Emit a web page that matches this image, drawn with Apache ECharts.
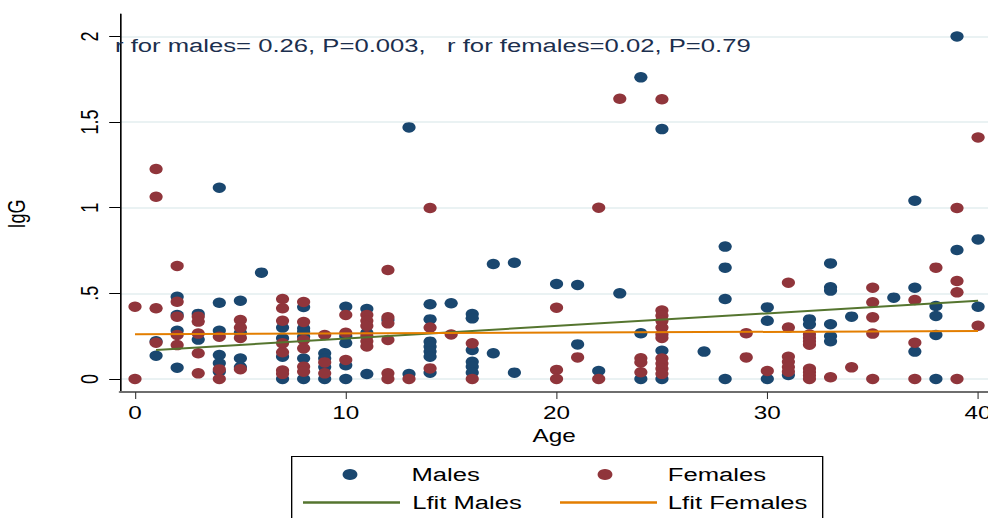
<!doctype html>
<html><head><meta charset="utf-8"></head>
<body style="margin:0;background:#fff;overflow:hidden">
<div id="chart" style="height:518px;transform-origin:0 0"></div>
<script src="https://cdn.jsdelivr.net/npm/echarts@6/dist/echarts.min.js"></script>
<script>
// IgG by age: [age, IgG]
var males = [
  [1,0.22],[1,0.136],
  [2,0.48],[2,0.374],[2,0.282],[2,0.066],
  [3,0.38],[3,0.23],
  [4,1.117],[4,0.445],[4,0.282],[4,0.14],[4,0.092],[4,0.043],
  [5,0.457],[5,0.27],[5,0.12],[5,0.07],
  [6,0.621],
  [7,0.30],[7,0.238],[7,0.13],[7,0],
  [8,0.42],[8,0.296],[8,0.276],[8,0.247],[8,0.12],[8,0],
  [9,0.15],[9,0.12],[9,0.07],[9,0],
  [10,0.422],[10,0.25],[10,0.21],[10,0.08],[10,0],
  [11,0.409],[11,0.27],[11,0.029],
  [12,0.345],
  [13,1.469],[13,0.029],
  [14,0.436],[14,0.348],[14,0.218],[14,0.189],[14,0.16],[14,0.13],[14,0.037],
  [15,0.442],
  [16,0.379],[16,0.354],[16,0.169],[16,0.10],[16,0.072],[16,0.037],
  [17,0.671],[17,0.15],
  [18,0.679],[18,0.037],
  [20,0.555],
  [21,0.549],[21,0.202],
  [22,0.047],
  [23,0.50],
  [24,1.761],[24,0.267],[24,0],
  [25,1.459],[25,0.165],[25,0],
  [27,0.16],
  [28,0.773],[28,0.65],[28,0.467],[28,0],
  [30,0.418],[30,0.34],[30,0],
  [31,0.023],
  [32,0.348],[32,0.319],
  [33,0.675],[33,0.535],[33,0.516],[33,0.32],[33,0.25],[33,0.22],
  [34,0.364],
  [36,0.475],
  [37,1.041],[37,0.533],[37,0.16],
  [38,0.426],[38,0.368],[38,0.257],[38,0],
  [39,2.0],[39,0.753],
  [40,0.815],[40,0.422]
];
var females = [
  [0,0.422],[0,0],
  [1,1.226],[1,1.064],[1,0.413],[1,0.212],
  [2,0.66],[2,0.451],[2,0.364],[2,0.257],[2,0.198],
  [3,0.364],[3,0.335],[3,0.265],[3,0.15],[3,0.033],
  [4,0.247],[4,0.056],[4,0],
  [5,0.344],[5,0.30],[5,0.24],[5,0.057],
  [7,0.467],[7,0.413],[7,0.34],[7,0.208],[7,0.156],[7,0.05],[7,0.03],
  [8,0.45],[8,0.333],[8,0.228],[8,0.179],[8,0.072],[8,0.043],
  [9,0.257],[9,0.097],[9,0.033],
  [10,0.374],[10,0.27],[10,0.111],
  [11,0.374],[11,0.34],[11,0.31],[11,0.25],[11,0.22],[11,0.19],
  [12,0.636],[12,0.36],[12,0.325],[12,0.228],[12,0.033],[12,0],
  [13,0],
  [14,0.998],[14,0.30],[14,0.062],
  [15,0.26],
  [16,0.208],[16,0],
  [20,0.416],[20,0.053],[20,0],
  [21,0.126],
  [22,1.0],[22,0],
  [23,1.636],
  [24,0.121],[24,0.097],[24,0.039],
  [25,1.633],[25,0.40],[25,0.37],[25,0.34],[25,0.30],[25,0.26],[25,0.24],[25,0.12],[25,0.09],[25,0.06],[25,0.03],
  [29,0.267],[29,0.126],
  [30,0.047],
  [31,0.562],[31,0.30],[31,0.13],[31,0.10],[31,0.07],[31,0.043],
  [32,0.26],[32,0.24],[32,0.22],[32,0.20],[32,0.06],[32,0.04],[32,0.02],[32,0],
  [33,0.01],
  [34,0.068],
  [35,0.533],[35,0.448],[35,0.36],[35,0.265],[35,0],
  [37,0.461],[37,0.212],[37,0],
  [38,0.65],
  [39,0.998],[39,0.572],[39,0.506],[39,0],
  [40,1.41],[40,0.311]
];
// fitted lines, end points
var lfitMales = [[1,0.17],[40,0.457]];
var lfitFemales = [[0,0.261],[40,0.28]];

var xTicks = [0,10,20,30,40];
var yTicks = [0,0.5,1,1.5,2];
var yTickLabels = ['0','.5','1','1.5','2'];

// the original Stata export is stretched sideways, so draw narrow and stretch the same way
var S = 1.35;
var FONT = 'Liberation Sans';
var dom = document.getElementById('chart');
dom.style.width = (988 / S) + 'px';
dom.style.transform = 'scaleX(' + S + ')';
var chart = echarts.init(dom, null, {renderer: 'svg'});

function px(x) { return x / S; }

function legendAt(name, icon, left, top, w, h, textPad) {
  return {
    data: [name], icon: icon, left: px(left), top: top, padding: 0,
    itemWidth: w, itemHeight: h, selectedMode: false,
    textStyle: {fontFamily: FONT, fontSize: 19, color: '#000', padding: [0,0,0,textPad]}
  };
}

var option = {
  animation: false,
  backgroundColor: '#fff',
  title: {
    text: 'r for males= 0.26, P=0.003,   r for females=0.02, P=0.79',
    left: px(115), top: 36, padding: 0,
    textStyle: {fontFamily: FONT, fontSize: 19, fontWeight: 'normal', color: '#1c2f4e'}
  },
  grid: {left: px(120), top: 14, right: 0, bottom: 126, outerBoundsMode: 'none', containLabel: false},
  xAxis: {
    type: 'value', min: -0.712, max: 40.48,
    name: 'Age', nameLocation: 'middle', nameGap: 35,
    nameTextStyle: {fontFamily: FONT, fontSize: 18, color: '#000'},
    axisLine: {onZero: false, lineStyle: {color: '#6e6e6e', width: 2}},
    axisTick: {customValues: xTicks, length: 7, lineStyle: {color: '#333', width: 0.8}},
    axisLabel: {customValues: xTicks, margin: 12, fontFamily: FONT, fontSize: 18, color: '#000'},
    splitLine: {show: false}
  },
  yAxis: {
    type: 'value', min: -0.0759, max: 2.131,
    name: 'IgG', nameLocation: 'middle', nameGap: 67, nameRotate: 90,
    nameTextStyle: {fontFamily: FONT, fontSize: 18, color: '#000', padding: [0,22,0,0]},
    axisLine: {show: true, onZero: false, lineStyle: {color: '#000', width: 1.2}},
    axisTick: {show: true, customValues: yTicks, length: 8, lineStyle: {color: '#000'}},
    axisLabel: {
      customValues: yTicks, rotate: 90, margin: 13,
      fontFamily: FONT, fontSize: 18, color: '#000',
      formatter: function (v) { return yTickLabels[yTicks.indexOf(v)]; }
    },
    splitLine: {show: true, lineStyle: {color: '#eaf2f3', width: 2}}
  },
  legend: [
    legendAt('Males', 'circle', 350 - 5.5 * S, 465, 11, 11, 35),
    legendAt('Females', 'circle', 605 - 5.5 * S, 465, 11, 11, 36),
    legendAt('Lfit Males', 'rect', 303, 493, px(97), 2.5, 4),
    legendAt('Lfit Females', 'rect', 560, 493, px(97), 2.5, 3)
  ],
  graphic: [{
    type: 'rect', left: px(291), top: 456, z: -1,
    shape: {width: px(531), height: 80},
    style: {fill: '#fff', stroke: '#000', lineWidth: 1}
  }],
  series: [
    {name: 'Males', type: 'scatter', data: males, symbol: 'circle', symbolSize: [9.8, 10.5],
     clip: false, itemStyle: {color: '#1a476f', opacity: 1}},
    {name: 'Females', type: 'scatter', data: females, symbol: 'circle', symbolSize: [9.8, 10.5],
     clip: false, itemStyle: {color: '#90353b', opacity: 1}},
    {name: 'Lfit Males', type: 'line', data: lfitMales, symbol: 'none',
     lineStyle: {color: '#55752f', width: 2}, itemStyle: {color: '#55752f'}},
    {name: 'Lfit Females', type: 'line', data: lfitFemales, symbol: 'none',
     lineStyle: {color: '#e37e00', width: 2}, itemStyle: {color: '#e37e00'}}
  ]
};
chart.setOption(option);
</script>
</body></html>
